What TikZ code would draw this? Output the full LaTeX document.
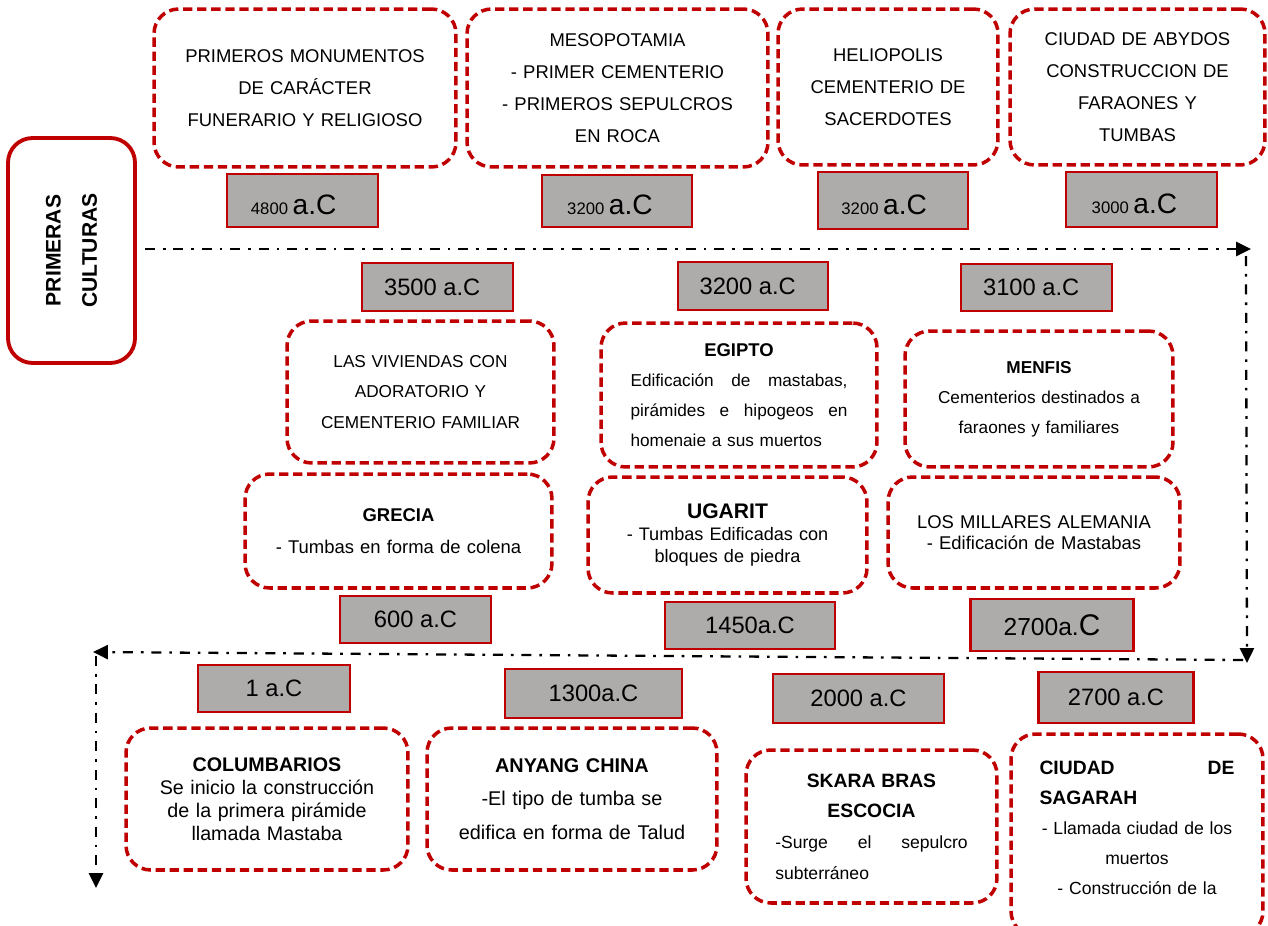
\documentclass[tikz,border=0pt]{standalone}
\usepackage{fontspec}
\setmainfont{Liberation Sans}
\usetikzlibrary{arrows.meta}

\definecolor{rojo}{RGB}{192,0,0}
\definecolor{gris}{RGB}{174,171,171}
\newcommand{\tam}[2]{\fontsize{#1}{#2}\selectfont}
\newcommand{\llena}[1]{\makebox[\hsize][s]{#1}}
\newcommand{\izq}[1]{\makebox[\hsize][l]{#1}}

\tikzset{
  evento/.style={draw=rojo, line width=2pt, dash pattern=on 5.3pt off 2.7pt, rounded corners=14pt, align=center, inner sep=0pt},
  fecha/.style={draw=rojo, fill=gris, line width=1.6pt, inner sep=0pt},
  tiempo/.style={line width=1.3pt, dash pattern=on 5.7pt off 4.5pt on 1.5pt off 4.5pt, -{Triangle[length=8.5pt,width=8pt]}}
}

\begin{document}
\begin{tikzpicture}[x=0.02cm, y=-0.02cm]
\useasboundingbox (0,0) rectangle (1268,926);
\clip (0,0) rectangle (1268,926);

\node[draw=rojo, line width=2.2pt, rounded corners=14pt, minimum width=4.5cm, minimum height=2.54cm, rotate=90, align=center, font=\bfseries\tam{12}{20.7}] (culturas) at (71.5,250.5) {PRIMERAS\\CULTURAS};

% primera fila
\node[evento, minimum width=6.04cm, minimum height=3.16cm, text width=5.6cm, font=\tam{10.5}{18.1}] (primeros) at (305,88) {PRIMEROS MONUMENTOS\\DE CARÁCTER\\FUNERARIO Y RELIGIOSO};
\node[evento, minimum width=6.02cm, minimum height=3.16cm, text width=5.6cm, font=\tam{10.5}{18.1}] (meso) at (617.5,88) {MESOPOTAMIA\\- PRIMER CEMENTERIO\\- PRIMEROS SEPULCROS\\EN ROCA};
\node[evento, minimum width=4.4cm, minimum height=3.12cm, text width=4cm, font=\tam{10.5}{18.1}] (helio) at (888,87) {HELIOPOLIS\\CEMENTERIO DE\\SACERDOTES};
\node[evento, minimum width=5.1cm, minimum height=3.12cm, text width=4.7cm, font=\tam{10.5}{18.1}] (abydos) at (1137.5,87) {CIUDAD DE ABYDOS\\CONSTRUCCION DE\\FARAONES Y\\TUMBAS};

\node[fecha, minimum width=3.02cm, minimum height=1.06cm, text height=16pt] (f4800) at (302.5,200.5) {\tam{9.5}{11}4800 \tam{16}{18}a.C\hspace*{10pt}};
\node[fecha, minimum width=3cm, minimum height=1.04cm, text height=16pt] (f3200a) at (617,201) {\tam{9.5}{11}3200 \tam{16}{18}a.C\hspace*{8pt}};
\node[fecha, minimum width=3cm, minimum height=1.14cm, text height=16pt] (f3200b) at (893,200.5) {\tam{9.5}{11}3200 \tam{16}{18}a.C\hspace*{10pt}};
\node[fecha, minimum width=3.02cm, minimum height=1.1cm, text height=16pt] (f3000) at (1141.5,199.5) {\tam{9.5}{11}3000 \tam{16}{18}a.C\hspace*{8pt}};

% segunda fila
\node[fecha, minimum width=3.02cm, minimum height=0.96cm, font=\tam{13.5}{15}] (f3500) at (437.5,287) {3500 a.C\hspace*{6pt}};
\node[fecha, minimum width=3cm, minimum height=0.96cm, font=\tam{13.5}{15}] (f3200c) at (753,286) {3200 a.C\hspace*{6pt}};
\node[fecha, minimum width=3.02cm, minimum height=0.94cm, font=\tam{13.5}{15}] (f3100) at (1036.5,287.5) {3100 a.C\hspace*{6pt}};

\node[evento, minimum width=5.34cm, minimum height=2.84cm, text width=4.9cm, font=\tam{9.8}{17.3}] (viviendas) at (420.5,392) {LAS VIVIENDAS CON\\ADORATORIO Y\\CEMENTERIO FAMILIAR};
\node[evento, minimum width=5.52cm, minimum height=2.88cm, text width=4.34cm, font=\tam{9.8}{17}] (egipto) at (739,395) {{\tam{10.5}{17}\textbf{EGIPTO}}\\\llena{Edificación \hfill de \hfill mastabas,}\\\llena{pirámides \hfill e \hfill hipogeos \hfill en}\\\izq{homenaie a sus muertos}};
\node[evento, minimum width=5.36cm, minimum height=2.72cm, text width=4.9cm, font=\tam{9.8}{17}] (menfis) at (1039,399) {\textbf{MENFIS}\\Cementerios destinados a\\faraones y familiares};

\node[evento, minimum width=6.14cm, minimum height=2.28cm, text width=5.7cm, font=\tam{10.5}{18}] (grecia) at (398.5,531) {\textbf{GRECIA}\\- Tumbas en forma de colena};
\node[evento, minimum width=5.58cm, minimum height=2.32cm, text width=5.1cm, font=\tam{10.3}{12.5}] (ugarit) at (727.5,535) {{\tam{12}{12.5}\textbf{UGARIT}}\\- Tumbas Edificadas con\\bloques de piedra};
\node[evento, minimum width=5.84cm, minimum height=2.22cm, text width=5.4cm, font=\tam{10.5}{12}] (millares) at (1034,532.5) {LOS MILLARES ALEMANIA\\- Edificación de Mastabas};

\node[fecha, minimum width=3.02cm, minimum height=0.94cm, font=\tam{13.5}{15}] (f600) at (415.5,619.5) {600 a.C};
\node[fecha, minimum width=3.4cm, minimum height=0.94cm, font=\tam{13.5}{15}] (f1450) at (750,625.5) {1450a.C};
\node[fecha, minimum width=3.26cm, minimum height=1.04cm, font=\tam{14}{16}] (f2700a) at (1052,625) {2700a.{\tam{17}{18}C}};

% tercera fila
\node[fecha, minimum width=3.04cm, minimum height=0.94cm, font=\tam{13.5}{15}] (f1) at (274,688.5) {1 a.C};
\node[fecha, minimum width=3.54cm, minimum height=0.98cm, font=\tam{13.5}{15}] (f1300) at (593.5,693.5) {1300a.C};
\node[fecha, minimum width=3.42cm, minimum height=0.98cm, font=\tam{13.5}{15}] (f2000) at (858.5,698.5) {2000 a.C};
\node[fecha, minimum width=3.1cm, minimum height=1.02cm, font=\tam{13.5}{15}] (f2700b) at (1116,697.5) {2700 a.C};

\node[evento, minimum width=5.64cm, minimum height=2.84cm, text width=5.2cm, font=\tam{11.2}{13}] (columbarios) at (267,799) {\textbf{COLUMBARIOS}\\Se inicio la construcción\\de la primera pirámide\\llamada Mastaba};
\node[evento, minimum width=5.8cm, minimum height=2.84cm, text width=5.3cm, font=\tam{11.3}{19}] (anyang) at (572,799) {\textbf{ANYANG CHINA}\\-El tipo de tumba se\\edifica en forma de Talud};
\node[evento, minimum width=5.02cm, minimum height=3.06cm, text width=3.85cm, font=\tam{10}{17.5}] (skara) at (871.5,826.5) {{\tam{11}{17.5}\textbf{SKARA BRAS}}\\{\tam{11}{17.5}\textbf{ESCOCIA}}\\\llena{-Surge \hfill el \hfill sepulcro}\\\izq{subterráneo}};
\node[evento, minimum width=5.04cm, minimum height=4.04cm, text width=3.9cm, font=\tam{10}{17}] (sagarah) at (1137,835) {\llena{\tam{11}{17}\bfseries CIUDAD \hfill DE}\\\izq{\tam{11}{17}\bfseries SAGARAH}\\- Llamada ciudad de los\\muertos\\- Construcción de la\\[-9pt]\mbox{}};

% linea de tiempo
\coordinate (ini) at (145,249);
\coordinate (der) at (1251,249);
\coordinate (bajaA) at (1246,256);
\coordinate (bajaB) at (1247,663);
\coordinate (vuelta) at (1243,660);
\coordinate (izqA) at (93,652);
\coordinate (bajaC) at (96,656);
\coordinate (fin) at (96,888);

\draw[tiempo] (ini) -- (der);
\draw[tiempo] (bajaA) -- (bajaB);
\draw[tiempo] (vuelta) -- (izqA);
\draw[tiempo] (bajaC) -- (fin);

\end{tikzpicture}
\end{document}
